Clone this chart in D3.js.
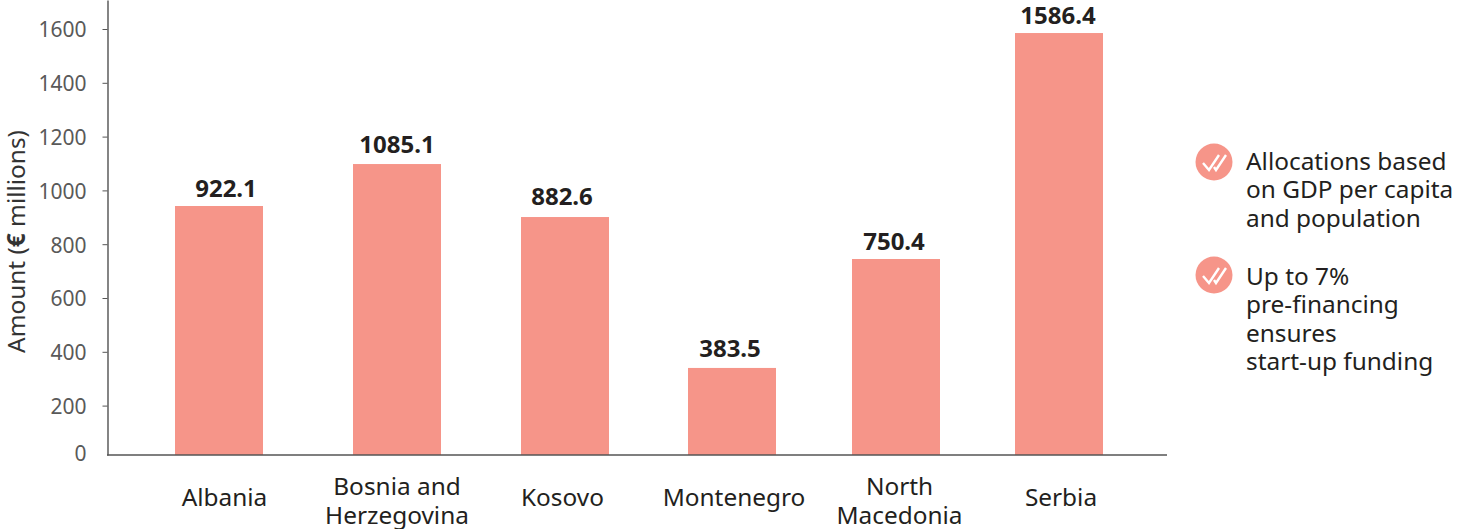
<!DOCTYPE html>
<html>
<head>
<meta charset="utf-8">
<script src="https://cdn.jsdelivr.net/npm/d3@7"></script>
<style>
  html, body { margin: 0; padding: 0; background: #fff; }
  svg { display: block; }
  text { font-family: "Noto Sans", sans-serif; }
</style>
</head>
<body>
<svg id="chart" width="1473" height="529"></svg>
<script>
var categories = ["Albania", "Bosnia and Herzegovina", "Kosovo", "Montenegro", "North Macedonia", "Serbia"];
// the figures printed above the bars
var printedValues = [922.1, 1085.1, 882.6, 383.5, 750.4, 1586.4];
// bar heights as read against the axis (the drawn bars don't quite follow the printed figures)
var barValues = [942, 1098, 901, 340, 745, 1585];
var yTicks = [0, 200, 400, 600, 800, 1000, 1200, 1400, 1600];
var notes = [
    ["Allocations based", "on GDP per capita", "and population"],
    ["Up to 7%", "pre-financing", "ensures", "start-up funding"]
];

var barColor = "#f69589";
var svg = d3.select("#chart");

// the source axis squeezes the 0-200 step, so the scale is piecewise
var y = d3.scaleLinear()
    .domain([0, 200, 1600, 1708])
    .range([455, 405.6, 29, 0]);

// the columns in the source are not evenly spaced
var barX = d3.scaleOrdinal().domain(categories).range([175, 353, 521, 688, 852, 1015]);
var labelX = d3.scaleOrdinal().domain(categories).range([224.5, 397, 562.5, 734, 899.5, 1061]);
var valueX = d3.scaleOrdinal().domain(categories).range([226, 397, 562, 730, 894, 1058]);
var valueGap = d3.scaleOrdinal().domain(categories).range([9, 11, 12, 11, 9, 9]);
var barWidth = 88;

// bars
svg.selectAll("rect.bar")
    .data(categories)
    .enter()
    .append("rect")
    .attr("class", "bar")
    .attr("x", function(d) { return barX(d); })
    .attr("width", barWidth)
    .attr("y", function(d, i) { return y(barValues[i]); })
    .attr("height", function(d, i) { return y(0) - y(barValues[i]); })
    .attr("fill", barColor);

// y axis
var yAxis = svg.append("g")
    .attr("transform", "translate(107.5,0)")
    .call(d3.axisLeft(y).tickValues(yTicks).tickFormat(d3.format("d")).tickSize(5).tickPadding(16).tickSizeOuter(0));
yAxis.select(".domain").attr("stroke", "#333").attr("stroke-width", 1.2);
yAxis.selectAll(".tick line").attr("stroke", "#555").attr("stroke-width", 1);
yAxis.selectAll(".tick text")
    .attr("fill", "#595959")
    .style("font-size", "21px")
    .attr("dy", function(d) { return d == 0 ? "0.25em" : "0.38em"; });
yAxis.selectAll(".tick").filter(function(d) { return d == 0; }).select("line").remove();

// baseline
svg.append("line")
    .attr("x1", 107).attr("x2", 1167)
    .attr("y1", y(0)).attr("y2", y(0))
    .attr("stroke", "#555").attr("stroke-width", 1.3);

// y title
var yTitle = svg.append("text")
    .attr("transform", "translate(25,241.5) rotate(-90)")
    .attr("text-anchor", "middle")
    .attr("fill", "#333")
    .style("font-size", "24.4px");
yTitle.append("tspan").text("Amount (");
yTitle.append("tspan").style("font-weight", "700").text("€");
yTitle.append("tspan").text(" millions)");

// value labels
svg.selectAll("text.value")
    .data(categories)
    .enter()
    .append("text")
    .attr("class", "value")
    .attr("x", function(d) { return valueX(d); })
    .attr("y", function(d, i) { return y(barValues[i]) - valueGap(d); })
    .attr("text-anchor", "middle")
    .attr("fill", "#231f20")
    .style("font-size", "24px")
    .style("font-weight", "700")
    .text(function(d, i) { return printedValues[i].toFixed(1); });

// category labels, wrapped on two lines where the source wraps them
function labelLines(name) {
    if (name == "Bosnia and Herzegovina") return ["Bosnia and", "Herzegovina"];
    if (name == "North Macedonia") return ["North", "Macedonia"];
    return [name];
}
svg.selectAll("text.cat")
    .data(categories)
    .enter()
    .append("text")
    .attr("class", "cat")
    .attr("text-anchor", "middle")
    .attr("fill", "#231f20")
    .style("font-size", "24.4px")
    .each(function(d) {
        var lines = labelLines(d);
        var sel = d3.select(this);
        lines.forEach(function(line, i) {
            sel.append("tspan")
                .attr("x", labelX(d))
                .attr("y", lines.length == 1 ? 506 : 495 + i * 28.5)
                .text(line);
        });
    });

// notes on the right
var noteY = d3.scaleOrdinal().domain([0, 1]).range([162, 275]);
var noteTextY = d3.scaleOrdinal().domain([0, 1]).range([7.5, 9.5]);
var note = svg.selectAll("g.note")
    .data(notes)
    .enter()
    .append("g")
    .attr("class", "note")
    .attr("transform", function(d, i) { return "translate(1214," + noteY(i) + ")"; });

note.append("circle").attr("r", 18.5).attr("fill", barColor);
note.append("path")
    .attr("d", "M-11,1 L-5,8 L5,-7 M0,5 L2,8 L12,-7")
    .attr("fill", "none")
    .attr("stroke", "#fff")
    .attr("stroke-width", 2.4);
note.each(function(lines, n) {
    d3.select(this).selectAll("text")
        .data(lines)
        .enter()
        .append("text")
        .attr("x", 32)
        .attr("y", function(d, i) { return noteTextY(n) + i * 28.5; })
        .attr("fill", "#231f20")
        .style("font-size", "24.4px")
        .text(function(d) { return d; });
});
</script>
</body>
</html>
